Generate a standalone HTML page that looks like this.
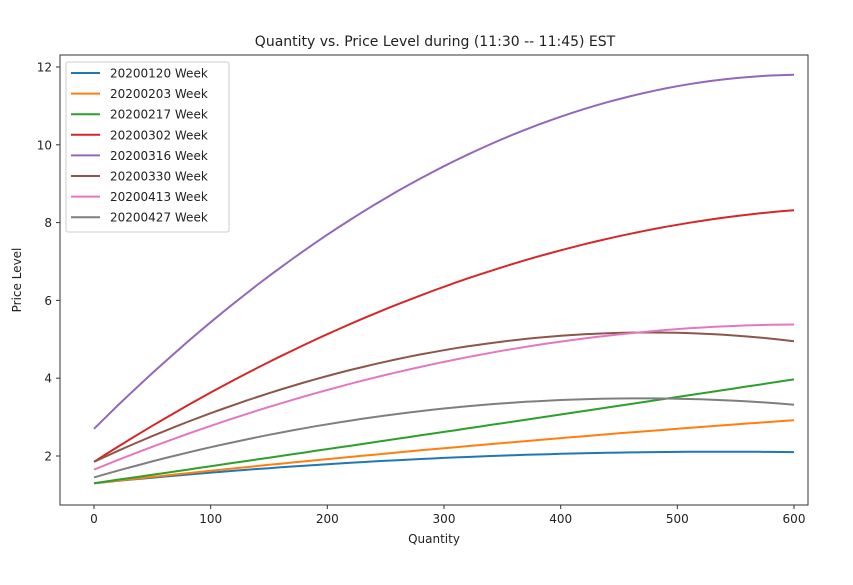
<!DOCTYPE html>
<html><head><style>
body{margin:0;background:#fff;}
svg text{font-family:"DejaVu Sans","Liberation Sans",sans-serif;fill:#222;}
</style></head><body>
<svg id="s" width="853" height="580" xmlns="http://www.w3.org/2000/svg">
<rect width="853" height="580" fill="#fff"/>
<text x="435" y="46" font-size="14" text-anchor="middle">Quantity vs. Price Level during  (11:30 -- 11:45) EST</text>
<g id="curves"></g>
<rect x="60" y="55" width="748" height="450" fill="none" stroke="#333" stroke-width="1"/>
<g id="ticks" font-size="12"></g>
<text x="434" y="543" font-size="12" text-anchor="middle">Quantity</text>
<text transform="translate(21,280) rotate(-90)" font-size="12" text-anchor="middle">Price Level</text>
<rect x="66" y="62" width="163" height="170" fill="#fff" fill-opacity="0.85" stroke="#ccc" rx="2"/>
<g id="legend" font-size="12"></g>
</svg>
<script>
var X=function(q){return 94+q*700/600;}, Y=function(v){return 456-(v-2)*38.9;};
var S=[["#1f77b4",1.3,1.95,2.1,"20200120"],["#ff7f0e",1.3,2.2,2.92,"20200203"],["#2ca02c",1.3,2.62,3.97,"20200217"],["#d62728",1.85,6.35,8.32,"20200302"],["#9467bd",2.7,9.45,11.8,"20200316"],["#8c564b",1.85,4.72,4.95,"20200330"],["#e377c2",1.65,4.42,5.38,"20200413"],["#7f7f7f",1.45,3.22,3.32,"20200427"]];
var ns="http://www.w3.org/2000/svg",g=document.getElementById("curves"),lg=document.getElementById("legend"),tk=document.getElementById("ticks");
function el(t,a,p){var e=document.createElementNS(ns,t);for(var k in a)e.setAttribute(k,a[k]);p.appendChild(e);return e;}
S.forEach(function(s,i){var a=s[1],b=s[2],c=s[3],d="";
for(var q=0;q<=600;q+=10){var t=q/300;var v=a*(t-1)*(t-2)/2-b*t*(t-2)+c*t*(t-1)/2;d+=(q?"L":"M")+X(q).toFixed(1)+","+Y(v).toFixed(1);}
el("path",{d:d,fill:"none",stroke:s[0],"stroke-width":2},g);
var y=73+i*20.6;el("line",{x1:71,x2:100,y1:y,y2:y,stroke:s[0],"stroke-width":2},lg);
var t=el("text",{x:110,y:y+4.5},lg);t.textContent=s[4]+" Week";});
for(var q=0;q<=600;q+=100){el("line",{x1:X(q),x2:X(q),y1:505,y2:509,stroke:"#333"},tk);var t=el("text",{x:X(q),y:523,"text-anchor":"middle"},tk);t.textContent=q;}
for(var v=2;v<=12;v+=2){el("line",{x1:56,x2:60,y1:Y(v),y2:Y(v),stroke:"#333"},tk);var t=el("text",{x:52,y:Y(v)+4.5,"text-anchor":"end"},tk);t.textContent=v;}
</script>
</body></html>
